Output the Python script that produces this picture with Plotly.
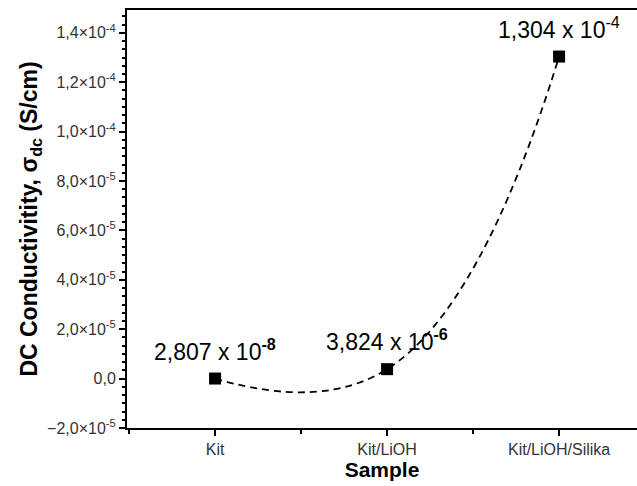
import plotly.graph_objects as go

categories = ["Kit", "Kit/LiOH", "Kit/LiOH/Silika"]
conductivity = [2.807e-8, 3.824e-6, 1.304e-4]
value_labels = ["2,807 x 10<sup><b>-8</b></sup>", "3,824 x 10<sup><b>-6</b></sup>", "1,304 x 10<sup>-4</sup>"]
y_tickvals = [-2e-5, 0, 2e-5, 4e-5, 6e-5, 8e-5, 1.0e-4, 1.2e-4, 1.4e-4]
y_ticktext = ["\u22122,0\u00d710<sup>-5</sup>", "0,0", "2,0\u00d710<sup>-5</sup>", "4,0\u00d710<sup>-5</sup>",
              "6,0\u00d710<sup>-5</sup>", "8,0\u00d710<sup>-5</sup>", "1,0\u00d710<sup>-4</sup>",
              "1,2\u00d710<sup>-4</sup>", "1,4\u00d710<sup>-4</sup>"]

xpos = list(range(len(categories)))
FONT = "Liberation Sans, Arial, sans-serif"

fig = go.Figure()
fig.add_trace(go.Scatter(
    x=xpos, y=conductivity, mode="lines",
    line=dict(color="black", width=1.8, dash="7px,5px", shape="spline", smoothing=1.3),
    hoverinfo="skip", showlegend=False))
fig.add_trace(go.Scatter(
    x=xpos, y=conductivity, mode="markers",
    marker=dict(symbol="square", size=12, color="black"),
    showlegend=False))

for xv, yv, txt in zip(xpos, conductivity, value_labels):
    fig.add_annotation(x=xv, y=yv, text=txt, showarrow=False, yshift=29,
                       font=dict(family=FONT, size=23, color="black"))

fig.update_layout(
    width=637, height=486,
    margin=dict(l=127, r=0, t=10, b=58),
    paper_bgcolor="white", plot_bgcolor="white",
    font=dict(family=FONT, color="#222"),
)
fig.update_xaxes(
    range=[-0.512, 2.453], tickvals=xpos, ticktext=categories,
    showgrid=False, zeroline=False, automargin=False,
    showline=True, linecolor="black", linewidth=2, mirror=True,
    ticks="outside", ticklen=6, tickwidth=1.5, tickcolor="black",
    tickfont=dict(size=16, color="#333"),
    minor=dict(ticks="outside", tick0=0.5, dtick=1, ticklen=4, tickwidth=1.5, tickcolor="black"),
    title=dict(text="<b>Sample</b>", font=dict(size=21, color="black"), standoff=2),
)
fig.update_yaxes(
    range=[-2e-5, 1.4925e-4], tickvals=y_tickvals, ticktext=y_ticktext,
    showgrid=False, zeroline=False, automargin=False,
    showline=True, linecolor="black", linewidth=2, mirror=False,
    ticks="outside", ticklen=6, tickwidth=1.5, tickcolor="black",
    tickfont=dict(size=16, color="#333"),
    minor=dict(ticks="outside", tick0=-2e-5, dtick=2e-5 / 6, ticklen=3, tickwidth=1.5, tickcolor="black"),
    title=dict(text="<b>DC Conductivitity, \u03c3<sub>dc</sub> (S/cm)</b>", font=dict(size=23, color="black"), standoff=3),
)

fig.write_html("out.html", config={"displayModeBar": False},
               post_script="document.body.style.margin='0';")
